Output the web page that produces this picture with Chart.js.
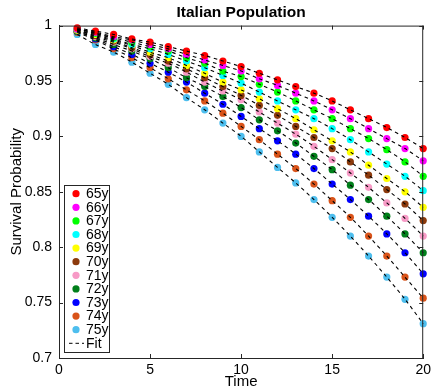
<!DOCTYPE html>
<html>
<head>
<meta charset="utf-8">
<script src="https://cdn.jsdelivr.net/npm/chart.js@4"></script>
<style>
  html, body { margin: 0; padding: 0; background: #fff; }
  #wrap { width: 435px; height: 392px; }
</style>
</head>
<body>
<div id="wrap"><canvas id="grafico"></canvas></div>
<script>
// time steps (years)
const tiempos = [1, 2, 3, 4, 5, 6, 7, 8, 9, 10, 11, 12, 13, 14, 15, 16, 17, 18, 19, 20];

const edades = ["65y", "66y", "67y", "68y", "69y", "70y", "71y", "72y", "73y", "74y", "75y"];

const colores = ["#ff0000", "#ff00ff", "#00ff00", "#00ffff", "#ffff00", "#8c3a0c",
  "#f79ac6", "#007f1a", "#0000ff", "#d95319", "#4dbeee"];

// survival probability, one array per age
const s65 = [0.998, 0.995, 0.992, 0.988, 0.985, 0.981, 0.977, 0.973, 0.968, 0.963, 0.957, 0.951, 0.945, 0.939, 0.932, 0.924, 0.916, 0.908, 0.899, 0.889];
const s66 = [0.997, 0.994, 0.990, 0.987, 0.983, 0.979, 0.974, 0.969, 0.964, 0.959, 0.952, 0.946, 0.939, 0.932, 0.924, 0.916, 0.907, 0.898, 0.889, 0.878];
const s67 = [0.997, 0.993, 0.989, 0.985, 0.981, 0.977, 0.971, 0.966, 0.959, 0.954, 0.947, 0.940, 0.932, 0.924, 0.916, 0.907, 0.898, 0.888, 0.877, 0.864];
const s68 = [0.997, 0.993, 0.988, 0.983, 0.979, 0.974, 0.968, 0.962, 0.955, 0.948, 0.940, 0.932, 0.924, 0.916, 0.907, 0.897, 0.886, 0.875, 0.864, 0.851];
const s69 = [0.996, 0.992, 0.987, 0.982, 0.976, 0.971, 0.964, 0.957, 0.949, 0.942, 0.934, 0.925, 0.916, 0.906, 0.896, 0.886, 0.874, 0.862, 0.850, 0.836];
const s70 = [0.996, 0.991, 0.986, 0.980, 0.974, 0.968, 0.961, 0.953, 0.945, 0.937, 0.928, 0.919, 0.909, 0.899, 0.889, 0.877, 0.865, 0.852, 0.839, 0.824];
const s71 = [0.996, 0.990, 0.985, 0.979, 0.972, 0.966, 0.958, 0.949, 0.941, 0.933, 0.922, 0.912, 0.902, 0.891, 0.879, 0.867, 0.854, 0.840, 0.826, 0.810];
const s72 = [0.995, 0.989, 0.983, 0.977, 0.970, 0.962, 0.953, 0.945, 0.936, 0.926, 0.915, 0.905, 0.894, 0.882, 0.870, 0.856, 0.843, 0.828, 0.812, 0.795];
const s73 = [0.995, 0.988, 0.981, 0.974, 0.966, 0.958, 0.949, 0.939, 0.929, 0.918, 0.907, 0.896, 0.884, 0.871, 0.857, 0.843, 0.828, 0.812, 0.795, 0.776];
const s74 = [0.994, 0.987, 0.979, 0.971, 0.962, 0.952, 0.942, 0.932, 0.921, 0.909, 0.897, 0.884, 0.871, 0.857, 0.842, 0.827, 0.810, 0.792, 0.773, 0.754];
const s75 = [0.992, 0.983, 0.976, 0.967, 0.957, 0.947, 0.935, 0.924, 0.912, 0.900, 0.886, 0.872, 0.858, 0.843, 0.827, 0.810, 0.792, 0.773, 0.753, 0.731];

const series = [s65, s66, s67, s68, s69, s70, s71, s72, s73, s74, s75];

const ticksX = [0, 5, 10, 15, 20];
const ticksY = [0.7, 0.75, 0.8, 0.85, 0.9, 0.95, 1];

const EJES = "#262626";
const FUENTE = "'Liberation Sans', Arial, sans-serif";

const puntos = (vals) => vals.map((v, i) => ({ x: tiempos[i], y: v }));

const datasets = [];
series.forEach((vals, i) => {
  datasets.push({
    label: edades[i],
    data: puntos(vals),
    showLine: false,
    pointRadius: 3.6,
    pointBorderWidth: 0,
    backgroundColor: colores[i],
    borderColor: colores[i],
    clip: false,
    order: 2,
  });
});
series.forEach((vals) => {
  datasets.push({
    label: "Fit",
    data: puntos(vals),
    borderColor: "#000",
    borderWidth: 1.1,
    borderDash: [3.5, 3.5],
    pointRadius: 0,
    tension: 0.3,
    clip: false,
    order: 1,
  });
});

// box, inward ticks and the inner legend
const marco = {
  id: "marco",
  afterDraw(chart) {
    const c = chart.ctx;
    const a = chart.chartArea;
    const sx = chart.scales.x;
    const sy = chart.scales.y;
    c.save();
    c.strokeStyle = EJES;
    c.lineWidth = 1;
    c.beginPath();
    c.moveTo(a.left, a.top + 0.5);
    c.lineTo(a.right, a.top + 0.5);
    c.moveTo(a.right - 0.5, a.top);
    c.lineTo(a.right - 0.5, a.bottom);
    ticksX.forEach((t) => {
      const px = Math.round(sx.getPixelForValue(t)) + 0.5;
      c.moveTo(px, a.bottom);
      c.lineTo(px, a.bottom - 4);
      c.moveTo(px, a.top);
      c.lineTo(px, a.top + 4);
    });
    ticksY.forEach((t) => {
      const py = Math.round(sy.getPixelForValue(t)) + 0.5;
      c.moveTo(a.left, py);
      c.lineTo(a.left + 4, py);
      c.moveTo(a.right, py);
      c.lineTo(a.right - 4, py);
    });
    c.stroke();

    // legend
    const lx = 64.5, ly = 185.5, lw = 45, lh = 167;
    c.fillStyle = "#fff";
    c.fillRect(lx, ly, lw, lh);
    c.strokeRect(lx, ly, lw, lh);
    c.font = "14px " + FUENTE;
    c.textBaseline = "middle";
    edades.forEach((e, i) => {
      const y = 193.7 + i * 13.6;
      c.fillStyle = colores[i];
      c.beginPath();
      c.arc(76, y, 3.6, 0, Math.PI * 2);
      c.fill();
      c.fillStyle = "#000";
      c.fillText(e, 86, y + 0.5);
    });
    const yf = 193.7 + 11 * 13.6;
    c.setLineDash([3.5, 3]);
    c.strokeStyle = "#000";
    c.beginPath();
    c.moveTo(69, yf);
    c.lineTo(84, yf);
    c.stroke();
    c.setLineDash([]);
    c.fillText("Fit", 86, yf + 0.5);
    c.restore();
  },
};

const ctx = document.getElementById("grafico");

const grafico = new Chart(ctx, {
  type: "line",
  data: { datasets },
  options: {
    responsive: true,
    maintainAspectRatio: false,
    animation: false,
    layout: { padding: { left: 0, right: 10, top: 0, bottom: 0 } },
    plugins: {
      legend: { display: false },
      tooltip: { enabled: false },
      title: {
        display: true,
        text: "Italian Population",
        fullSize: false,
        color: "#000",
        font: { family: FUENTE, size: 15.5, weight: "bold" },
        padding: { top: 3, bottom: 4 },
      },
    },
    scales: {
      x: {
        type: "linear",
        min: 0,
        max: 20,
        afterBuildTicks: (s) => { s.ticks = ticksX.map((v) => ({ value: v })); },
        afterFit: (s) => { s.height = 34; },
        grid: { display: false, drawTicks: false },
        border: { color: EJES, width: 1 },
        ticks: { color: "#000", padding: 4, font: { family: FUENTE, size: 14 } },
        title: {
          display: true,
          text: "Time",
          color: "#000",
          padding: { top: 0, bottom: 1 },
          font: { family: FUENTE, size: 15 },
        },
      },
      y: {
        min: 0.7,
        max: 1,
        afterBuildTicks: (s) => { s.ticks = ticksY.map((v) => ({ value: v })); },
        afterFit: (s) => { s.width = 59; },
        grid: { display: false, drawTicks: false },
        border: { color: EJES, width: 1 },
        ticks: {
          color: "#000",
          padding: 7,
          font: { family: FUENTE, size: 14 },
          callback: (v) => String(Number(v.toFixed(2))),
        },
        title: {
          display: true,
          text: "Survival Probability",
          color: "#000",
          padding: { top: 8, bottom: 0 },
          font: { family: FUENTE, size: 15 },
        },
      },
    },
  },
  plugins: [marco],
});
</script>
</body>
</html>
